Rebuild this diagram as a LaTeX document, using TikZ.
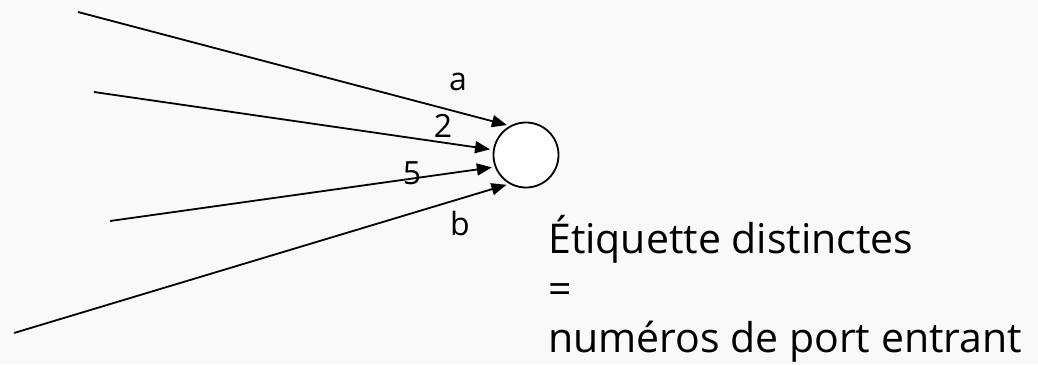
\documentclass[tikz,border=0pt]{standalone}
\usepackage{fontspec}
\setmainfont{Open Sans}
\usetikzlibrary{arrows.meta}
\definecolor{bgcol}{HTML}{F9F9F9}
\begin{document}
\begin{tikzpicture}[x=1pt,y=-1pt,
  conn/.style={line width=1.8pt,-{Triangle[length=15pt,width=12pt]},shorten >=3pt},
  lbl/.style={inner sep=0pt,font=\fontsize{32}{38}\selectfont},
  txt/.style={inner sep=0pt,anchor=base west,font=\fontsize{41}{48}\selectfont}]
\fill[bgcol] (0,0) rectangle (1038,364);
\useasboundingbox (0,0) rectangle (1038,364);
\node[circle,draw,line width=1.8pt,minimum size=65pt,inner sep=0pt,fill=white] (n) at (526,155) {};
\coordinate (s1) at (78,12);
\coordinate (s2) at (94,92);
\coordinate (s3) at (110,221);
\coordinate (s4) at (14,333);
\draw[conn] (s1) -- (n.119);
\draw[conn] (s2) -- (n.171);
\draw[conn] (s3) -- (n.201);
\draw[conn] (s4) -- (n.240);
\node[lbl] (la) at (458,82) {a};
\node[lbl] (l2) at (443,126) {2};
\node[lbl] (l5) at (412,173) {5};
\node[lbl] (lb) at (460,223) {b};
\node[txt] (t1) at (548,253) {Étiquette distinctes};
\node[txt] (t2) at (548,303) {=};
\node[txt] (t3) at (548,352) {numéros de port entrant};
\end{tikzpicture}
\end{document}
